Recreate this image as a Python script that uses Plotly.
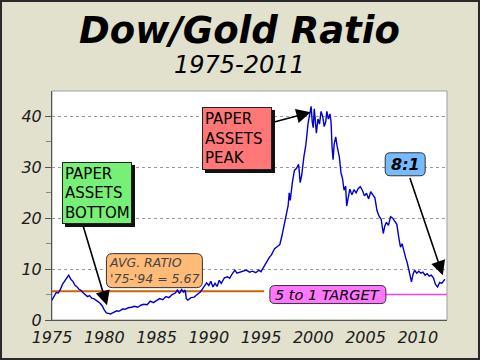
import plotly.graph_objects as go

# ---- data ----
years = [1975.0, 1975.2, 1975.4, 1975.6, 1975.8, 1976.0, 1976.2, 1976.4, 1976.6, 1976.8,
         1977.0, 1977.2, 1977.4, 1977.6, 1977.8, 1978.0, 1978.2, 1978.4, 1978.6, 1978.8,
         1979.0, 1979.2, 1979.4, 1979.6, 1979.8, 1980.0, 1980.2, 1980.4, 1980.6, 1980.8,
         1981.0, 1981.2, 1981.4, 1981.6, 1981.8, 1982.0, 1982.3, 1982.6, 1982.9, 1983.2,
         1983.5, 1983.8, 1984.1, 1984.4, 1984.7, 1985.0, 1985.3, 1985.6, 1985.9, 1986.2,
         1986.5, 1986.8, 1987.0, 1987.2, 1987.4, 1987.6, 1987.75, 1987.85, 1988.0, 1988.3,
         1988.6, 1988.9, 1989.2, 1989.5, 1989.8, 1990.0, 1990.2, 1990.4, 1990.6, 1990.8,
         1991.0, 1991.2, 1991.5, 1991.8, 1992.0, 1992.2, 1992.5, 1992.7, 1993.0, 1993.3,
         1993.6, 1993.9, 1994.2, 1994.5, 1994.8, 1995.0, 1995.2, 1995.4, 1995.6, 1995.8,
         1996.0, 1996.3, 1996.6, 1996.8, 1997.0, 1997.2, 1997.4, 1997.6, 1997.7, 1997.8,
         1998.0, 1998.2, 1998.4, 1998.6, 1998.75, 1998.9, 1999.1, 1999.3, 1999.5, 1999.7,
         1999.8, 1999.9, 2000.0, 2000.1, 2000.2, 2000.3, 2000.45, 2000.6, 2000.75, 2000.9,
         2001.05, 2001.2, 2001.3, 2001.45, 2001.6, 2001.7, 2001.8, 2001.9, 2002.0, 2002.15,
         2002.3, 2002.5, 2002.65, 2002.8, 2002.95, 2003.1, 2003.2, 2003.35, 2003.5, 2003.7,
         2003.9, 2004.1, 2004.3, 2004.5, 2004.7, 2004.9, 2005.1, 2005.3, 2005.5, 2005.7,
         2005.9, 2006.1, 2006.3, 2006.5, 2006.7, 2006.85, 2007.0, 2007.2, 2007.4, 2007.6,
         2007.8, 2008.0, 2008.2, 2008.35, 2008.5, 2008.7, 2008.85, 2009.0, 2009.2, 2009.4,
         2009.55, 2009.7, 2009.9, 2010.1, 2010.3, 2010.5, 2010.7, 2010.9, 2011.1, 2011.3,
         2011.5, 2011.7, 2011.9, 2012.1, 2012.3, 2012.5, 2012.6]
ratio = [3.9, 4.6, 5.4, 5.3, 6.0, 7.0, 7.6, 8.2, 8.8, 8.0,
         7.6, 6.8, 6.5, 6.0, 5.8, 5.3, 5.0, 4.6, 4.8, 4.3,
         4.2, 3.8, 3.6, 3.3, 2.8, 2.0, 1.4, 1.3, 1.2, 1.4,
         1.6, 1.8, 1.7, 2.0, 2.2, 2.1, 2.4, 2.5, 2.7, 2.5,
         2.9, 3.1, 3.0, 3.7, 3.4, 3.8, 4.2, 4.0, 4.6, 4.4,
         5.0, 5.3, 5.9, 5.2, 6.0, 5.5, 5.9, 4.2, 3.9, 4.4,
         4.5, 5.0, 5.5, 6.4, 7.3, 6.8, 7.6, 6.5, 7.2, 6.6,
         7.8, 7.2, 8.3, 8.5, 8.2, 8.9, 9.8, 9.2, 9.4, 9.6,
         9.8, 9.4, 9.6, 9.3, 9.8, 9.5, 10.2, 11.0, 11.8, 12.3,
         12.8, 14.0, 14.5, 14.8, 16.5, 18.5, 20.5, 22.5, 25.0, 23.5,
         27.0, 29.4, 29.8, 30.6, 27.0, 28.5, 32.0, 34.5, 38.6, 40.5,
         42.0, 39.0, 37.8, 41.5, 38.0, 36.7, 39.5, 38.5, 41.0, 40.0,
         38.0, 39.0, 41.0, 39.5, 40.5, 39.0, 34.0, 31.5, 34.5, 36.0,
         34.0, 32.0, 29.0, 27.8, 25.5, 26.3, 22.4, 24.5, 25.7, 24.6,
         25.6, 25.0, 25.8, 26.2, 25.5, 24.4, 24.9, 23.8, 25.2, 24.6,
         24.0, 21.5, 20.4, 19.8, 17.0, 18.5, 19.2, 18.6, 20.3, 20.0,
         19.4, 18.8, 16.0, 14.3, 15.0, 13.1, 12.2, 11.2, 9.3, 7.5,
         9.0, 9.8, 9.2, 9.6, 9.2, 9.4, 8.8, 9.1, 8.6, 8.8,
         8.3, 7.0, 6.5, 7.4, 7.2, 7.7, 8.0]

avg_years = [1975.0, 1995.3]
avg_ratio = [5.67, 5.67]
target_years = [1996.0, 2012.8]
target_ratio = [5.0, 5.0]

x_ticks = [1975, 1980, 1985, 1990, 1995, 2000, 2005, 2010]
y_ticks = [0, 10, 20, 30, 40]

title_text = "Dow/Gold Ratio"
subtitle_text = "1975-2011"

FONT = "DejaVu Sans"
BG = "#E1E1CD"

fig = go.Figure()
fig.add_trace(go.Scatter(x=avg_years, y=avg_ratio, mode="lines",
                         line=dict(color="#C8640A", width=2), hoverinfo="skip"))
fig.add_trace(go.Scatter(x=target_years, y=target_ratio, mode="lines",
                         line=dict(color="#F040F0", width=1.5), hoverinfo="skip"))
fig.add_trace(go.Scatter(x=years, y=ratio, mode="lines",
                         line=dict(color="#0000CC", width=1.4), hoverinfo="skip"))

# ---- boxes ----
def box(x, y, text, bg, size, color="black", weight="normal", style="normal",
        shadow=None, align="left"):
    w, h = shadow
    fig.add_annotation(x=x, y=y, xref="x", yref="y", text=" ", showarrow=False,
                       bgcolor="#111111", bordercolor="#111111",
                       borderwidth=1, borderpad=2, xshift=3, yshift=-3,
                       width=w, height=h,
                       font=dict(family=FONT, size=size, color="rgba(0,0,0,0)"))
    fig.add_annotation(x=x, y=y, xref="x", yref="y", text=text, showarrow=False,
                       align=align, bgcolor=bg, bordercolor="#222222",
                       borderwidth=1, borderpad=2, width=w, height=h,
                       font=dict(family=FONT, size=size, color=color,
                                 weight=weight, style=style))

def rounded_box(x, y, text, bg, size, w, h, r=6, color="black", weight="normal",
                style="normal", align="left"):
    a, b = w / 2, h / 2
    path = (f"M {-a + r},{-b} L {a - r},{-b} Q {a},{-b} {a},{-b + r} "
            f"L {a},{b - r} Q {a},{b} {a - r},{b} L {-a + r},{b} "
            f"Q {-a},{b} {-a},{b - r} L {-a},{-b + r} Q {-a},{-b} {-a + r},{-b} Z")
    fig.add_shape(type="path", xref="x", yref="y", xsizemode="pixel",
                  ysizemode="pixel", xanchor=x, yanchor=y, path=path,
                  fillcolor=bg, line=dict(color="#333333", width=1), layer="above")
    fig.add_annotation(x=x, y=y, xref="x", yref="y", text=text, showarrow=False,
                       align=align,
                       font=dict(family=FONT, size=size, color=color,
                                 weight=weight, style=style))

def arrow(x0, y0, x1, y1):
    fig.add_annotation(x=x1, y=y1, ax=x0, ay=y0, xref="x", yref="y",
                       axref="x", ayref="y", text="", showarrow=True,
                       arrowhead=2, arrowsize=1.8, arrowwidth=1.6,
                       arrowcolor="black", standoff=0)

arrow(1977.96, 18.6, 1980.26, 2.9)
arrow(1996.03, 38.8, 1999.76, 40.8)
arrow(2009.2, 28.2, 2012.4, 8.8)

box(1979.3, 24.9, "PAPER<br>ASSETS<br>BOTTOM", "#77F077", 15, shadow=(64, 56))
box(1992.7, 35.6, "PAPER<br>ASSETS<br>PEAK", "#FF7777", 15, shadow=(64, 57))
rounded_box(1984.8, 9.7, "AVG. RATIO<br>'75-'94 = 5.67", "#FFBB77", 12.5, 96, 34,
            color="#444444", style="italic")
rounded_box(2001.4, 5.0, "5 to 1 TARGET", "#FF77FF", 14.5, 116, 18, r=5,
            style="italic")
rounded_box(2008.8, 30.6, "8:1", "#77BBFF", 16, 40, 23, r=5,
            weight="bold", style="italic")

# ---- titles ----
fig.add_annotation(x=0.475, y=1.266, xref="paper", yref="paper", text=title_text,
                   showarrow=False, yanchor="middle",
                   font=dict(family=FONT, size=37, color="black",
                             weight="bold", style="italic"))
fig.add_annotation(x=0.475, y=1.113, xref="paper", yref="paper", text=subtitle_text,
                   showarrow=False, yanchor="middle",
                   font=dict(family=FONT, size=24, color="black", style="italic"))

# ---- frames ----
fig.add_shape(type="rect", xref="paper", yref="paper", x0=0, x1=1, y0=0, y1=1,
              line=dict(color="#A0A0A0", width=1), layer="below")
fig.add_shape(type="rect", xref="paper", yref="paper",
              x0=-0.1316, x1=1.0835, y0=-0.1747, y1=1.397,
              line=dict(color="#2A2A2A", width=4))

fig.update_layout(
    width=480, height=360,
    margin=dict(l=52, r=33, t=91, b=40),
    paper_bgcolor=BG, plot_bgcolor="white",
    showlegend=False,
    xaxis=dict(range=[1975, 2012.8], tickvals=x_ticks, showgrid=False,
               zeroline=False, showline=True, linecolor="#555555", linewidth=1,
               ticks="outside", ticklen=3, tickcolor="rgba(0,0,0,0)",
               tickfont=dict(family=FONT, size=16, color="#1A1A1A", style="italic")),
    yaxis=dict(range=[0, 45], tickvals=y_ticks, showgrid=True, gridcolor="#999999",
               griddash="dot", gridwidth=1, zeroline=False, showline=True,
               linecolor="#555555", linewidth=1, ticks="outside", ticklen=6,
               tickcolor="#555555",
               minor=dict(tickvals=[5, 15, 25, 35], ticks="outside", ticklen=5,
                          tickcolor="#888888", showgrid=False),
               tickfont=dict(family=FONT, size=16, color="#1A1A1A", style="italic")),
)

fig.write_html("out.html", config={"displayModeBar": False},
               post_script="document.body.style.margin='0';")
